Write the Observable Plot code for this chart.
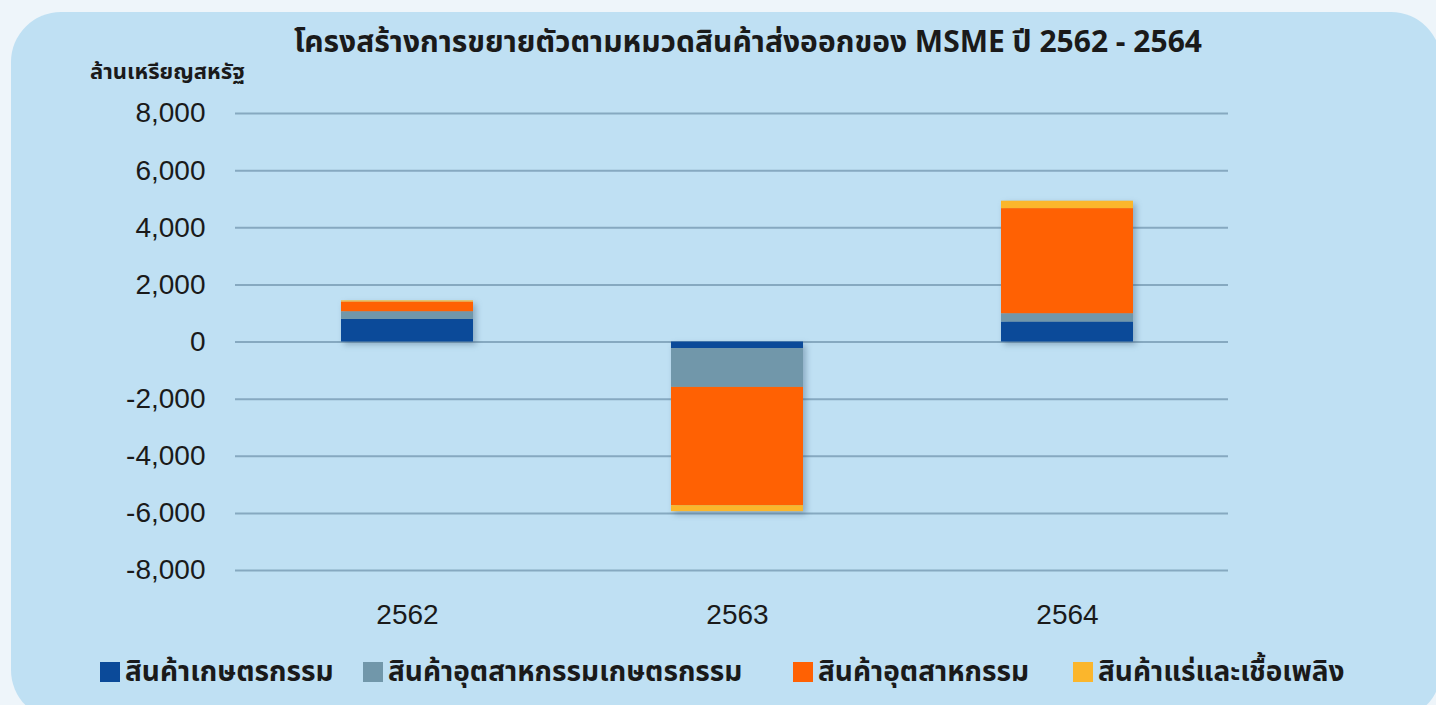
<!DOCTYPE html>
<html>
<head>
<meta charset="utf-8">
<script src="https://cdn.jsdelivr.net/npm/d3@7"></script>
<script src="https://cdn.jsdelivr.net/npm/@observablehq/plot@0.6"></script>
<style>
  html, body { margin: 0; padding: 0; background: #eef5fa; width: 1436px; height: 705px; overflow: hidden; font-family: "Noto Sans Thai", "Noto Sans", "DejaVu Sans", sans-serif; }
  #panel { position: absolute; left: 11px; top: 12px; width: 1430px; height: 708px; border-radius: 50px; background: #bfe0f3; }
  #title { position: absolute; left: 0; width: 1496px; top: 20px; text-align: center; font-size: 30px; font-weight: bold; color: #1a1a1a; }
  #unit { position: absolute; left: 90px; top: 56px; font-size: 22px; font-weight: bold; color: #1a1a1a; }
  #chart { position: absolute; left: 0; top: 0; }
  #chart svg g[aria-label="bar"] { filter: drop-shadow(3px 3px 3px rgba(40,70,100,0.35)); }
  #legend { position: absolute; left: 0; top: 648px; width: 1436px; height: 50px; font-size: 28px; font-weight: bold; color: #1a1a1a; }
  .item { position: absolute; top: 0; display: flex; align-items: center; white-space: nowrap; height: 48px; }
  .sw { display: inline-block; width: 20px; height: 20px; margin-right: 5px; }
</style>
</head>
<body>
<div id="panel"></div>
<div id="title">โครงสร้างการขยายตัวตามหมวดสินค้าส่งออกของ MSME ปี 2562 - 2564</div>
<div id="unit">ล้านเหรียญสหรัฐ</div>
<div id="chart"></div>
<div id="legend"></div>
<script>
const years = ["2562", "2563", "2564"];
const seriesNames = ["สินค้าเกษตรกรรม", "สินค้าอุตสาหกรรมเกษตรกรรม", "สินค้าอุตสาหกรรม", "สินค้าแร่และเชื้อเพลิง"];
const agri = [790, -230, 700];
const agroIndustry = [270, -1360, 290];
const industry = [340, -4140, 3680];
const mineralFuel = [40, -210, 260];
const yTicks = [-8000, -6000, -4000, -2000, 0, 2000, 4000, 6000, 8000];
const colors = ["#0b4a99", "#7197aa", "#ff6103", "#fbb62c"];

const seriesValues = [agri, agroIndustry, industry, mineralFuel];
const data = [];
seriesNames.forEach((s, i) => years.forEach((y, j) => data.push({year: y, series: s, value: seriesValues[i][j]})));

const fmt = d => d.toLocaleString("en-US");
const plot = Plot.plot({
  width: 1436,
  height: 640,
  marginTop: 113,
  marginBottom: 70,
  marginLeft: 235,
  marginRight: 208,
  style: { background: "transparent", fontFamily: "\"Liberation Sans\", Arial, sans-serif", color: "#1a1a1a" },
  x: { domain: years, range: [242, 1232], paddingInner: 0.6, paddingOuter: 0.3, label: null },
  y: { domain: [-8000, 8000], label: null },
  color: { domain: seriesNames, range: colors },
  marks: [
    Plot.gridY(yTicks, { stroke: "#86a9c0", strokeOpacity: 1, strokeWidth: 2 }),
    Plot.barY(data, { x: "year", y: "value", fill: "series", order: seriesNames }),
    Plot.axisY({ ticks: yTicks, tickSize: 0, tickPadding: 30, tickFormat: fmt, fontSize: 28, label: null }),
    Plot.axisX({ tickSize: 0, tickPadding: 34, fontSize: 28, label: null })
  ]
});
document.getElementById("chart").appendChild(plot);

const legend = document.getElementById("legend");
const legendX = [100, 363, 793, 1073];
seriesNames.forEach((s, i) => {
  const it = document.createElement("div");
  it.className = "item";
  it.style.left = legendX[i] + "px";
  const sw = document.createElement("span");
  sw.className = "sw";
  sw.style.background = colors[i];
  it.appendChild(sw);
  const t = document.createElement("span");
  t.textContent = s;
  it.appendChild(t);
  legend.appendChild(it);
});
</script>
</body>
</html>
